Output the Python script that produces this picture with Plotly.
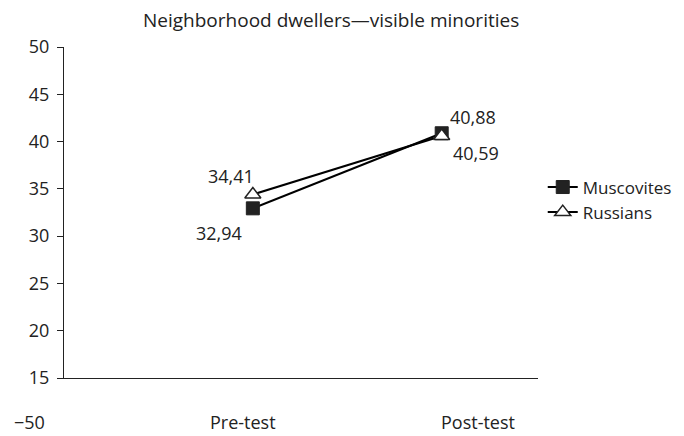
import plotly.graph_objects as go

categories = ["Pre-test", "Post-test"]
muscovites = [32.94, 40.88]
russians = [34.41, 40.59]
y_ticks = [15, 20, 25, 30, 35, 40, 45, 50]
title = "Neighborhood dwellers\u2014visible minorities"
extra_label = "\u221250"

FONT = "Open Sans"
FS = 18
TXT = "#222222"
xpos = [1, 2]

def fmt(v):
    return f"{v:.2f}".replace(".", ",")

fig = go.Figure()
fig.add_trace(go.Scatter(
    x=xpos, y=muscovites, mode="lines+markers", name="Muscovites",
    line=dict(color="black", width=2),
    marker=dict(symbol="square", size=13, color=TXT, line=dict(color=TXT, width=1)),
))
fig.add_trace(go.Scatter(
    x=xpos, y=russians, mode="lines+markers", name="Russians",
    line=dict(color="black", width=2),
    marker=dict(symbol="triangle-up", size=14, color="white", line=dict(color=TXT, width=1.5)),
))

annots = []
shifts_m = [(-34, -25), (31, 16)]
shifts_r = [(-22, 18), (34, -17)]
for i in range(2):
    annots.append(dict(x=xpos[i], y=muscovites[i], xref="x", yref="y", text=fmt(muscovites[i]),
                       showarrow=False, xshift=shifts_m[i][0], yshift=shifts_m[i][1],
                       font=dict(family=FONT, size=FS, color=TXT)))
    annots.append(dict(x=xpos[i], y=russians[i], xref="x", yref="y", text=fmt(russians[i]),
                       showarrow=False, xshift=shifts_r[i][0], yshift=shifts_r[i][1],
                       font=dict(family=FONT, size=FS, color=TXT)))
cat_shift = [-10, 36]
for i, c in enumerate(categories):
    annots.append(dict(x=xpos[i], y=0, xref="x", yref="paper",
                       yanchor="middle", yshift=-44,
                       xshift=cat_shift[i], text=c, showarrow=False,
                       font=dict(family=FONT, size=FS, color=TXT)))
annots.append(dict(x=0, y=0, xref="paper", yref="paper", xanchor="right", yanchor="middle",
                   xshift=-17, yshift=-44, text=extra_label, showarrow=False,
                   font=dict(family=FONT, size=FS, color=TXT)))
annots.append(dict(x=(330 - 64) / 472, y=1, xref="paper", yref="paper", yanchor="middle",
                   yshift=27, text=title, showarrow=False,
                   font=dict(family=FONT, size=19, color=TXT)))

fig.update_layout(
    width=684, height=428,
    margin=dict(l=56, r=154, t=39, b=58, autoexpand=False),
    paper_bgcolor="white", plot_bgcolor="white",
    showlegend=True,
    legend=dict(x=1.01, y=0.63, xanchor="left", yanchor="top",
                font=dict(family=FONT, size=17, color=TXT),
                itemwidth=30, tracegroupgap=0, bgcolor="rgba(0,0,0,0)"),
    annotations=annots,
    font=dict(family=FONT, size=FS, color=TXT),
)
fig.update_xaxes(range=[0, 2.51], showgrid=False, zeroline=False, showline=True,
                 linecolor=TXT, linewidth=1.2, showticklabels=False, ticks="")
fig.update_yaxes(range=[15, 50], tickvals=y_ticks, showgrid=False, zeroline=False,
                 showline=True, linecolor=TXT, linewidth=1.2, ticks="outside",
                 ticklen=6, tickcolor=TXT, ticklabelstandoff=4,
                 tickfont=dict(family=FONT, size=FS, color=TXT))

fig.write_html("out.html")
